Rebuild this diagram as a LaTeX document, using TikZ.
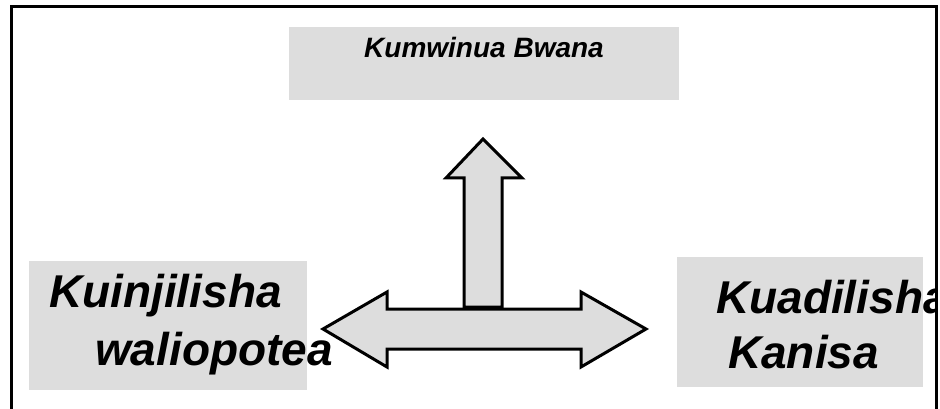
\documentclass[tikz,border=0pt]{standalone}
\usepackage{fontspec}
\setmainfont{Liberation Sans}
\definecolor{boxgray}{HTML}{DDDDDD}
\begin{document}
\begin{tikzpicture}[x=1pt,y=-1pt,
  box/.style={fill=boxgray, inner sep=0pt, anchor=north west},
  big/.style={font=\fontsize{46}{46}\selectfont\bfseries\itshape, anchor=base west, inner sep=0pt},
  small/.style={font=\fontsize{28}{28}\selectfont\bfseries\itshape, anchor=base, inner sep=0pt},
  arrowshape/.style={fill=boxgray, draw=black, line width=3pt, line join=miter},
  frame/.style={draw=black, line width=3pt}]
\useasboundingbox (0,0) rectangle (940,409);
\fill[white] (0,0) rectangle (940,409);
% boxes
\node[box, minimum width=390pt, minimum height=73pt] (topbox) at (289,27) {};
\node[box, minimum width=278pt, minimum height=129pt] (leftbox) at (29,261) {};
\node[box, minimum width=246pt, minimum height=130pt] (rightbox) at (677,257) {};
% texts
\node[small] (toptext) at (484,58) {Kumwinua Bwana};
\node[big] (l1) at (49,307) {Kuinjilisha};
\node[big] (l2) at (95,365) {waliopotea};
\begin{scope}
\clip (0,0) rectangle (935,409);
\node[big] (r1) at (716,313) {Kuadilisha};
\end{scope}
\node[big] (r2) at (728,368) {Kanisa};
% arrows
\draw[arrowshape] (323,329) -- (387,292) -- (387,309) -- (581,309) -- (581,292) -- (646,329)
  -- (581,367) -- (581,349) -- (387,349) -- (387,367) -- cycle;
\draw[arrowshape] (464,307) -- (464,178) -- (446,178) -- (483,139) -- (522,178)
  -- (502,178) -- (502,307) -- cycle;
% frame
\draw[frame] (11,409) -- (11,7) -- (936,7) -- (936,409);
\end{tikzpicture}
\end{document}
